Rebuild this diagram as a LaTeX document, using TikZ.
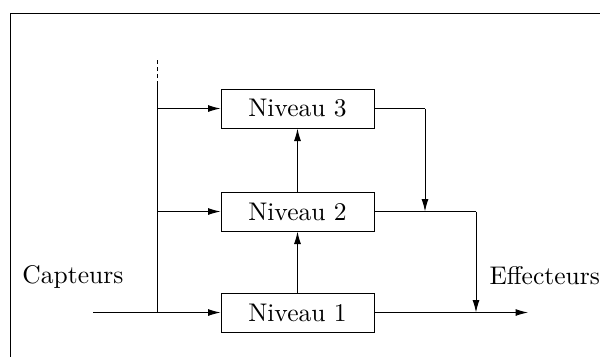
\documentclass[tikz,border=0pt]{standalone}
\usetikzlibrary{arrows.meta}
\begin{document}
\begin{tikzpicture}[x=0.4pt,y=-0.4pt,
  every node/.style={font=\fontsize{10.2}{12}\selectfont},
  wire/.style={line width=0.4pt},
  arr/.style={wire,-{Latex[length=5pt,width=2.8pt]}},
  levelbox/.style={draw,line width=0.4pt,minimum width=61.2pt,minimum height=15.6pt,inner sep=0pt}]
\useasboundingbox (0,0) rectangle (600,356);
% frame (top and left edges)
\draw[line width=0.4pt] (10,360) -- (10,13) -- (604,13);
% boxes
\node[levelbox] (n3) at (297.5,108.5) {Niveau 3};
\node[levelbox] (n2) at (297.5,211.5) {Niveau 2};
\node[levelbox] (n1) at (297.5,312.5) {Niveau 1};
% labels
\node[anchor=base west,inner sep=0pt] (cap) at (22,283) {Capteurs};
\node[anchor=base west,inner sep=0pt] (eff) at (489,284) {Effecteurs};
% coordinates
\coordinate (in) at (93,312.5);
\coordinate (b1) at (157,312.5);
\coordinate (b2) at (157,211.5);
\coordinate (b3) at (157,108.5);
\coordinate (btop) at (157,85);
\coordinate (bdash) at (157,57);
\coordinate (m1) at (425,211.5);
\coordinate (c3) at (425,108.5);
\coordinate (c2) at (476,211.5);
\coordinate (m2) at (476,312.5);
\coordinate (out) at (528,312.5);
% bus
\draw[wire] (b1) -- (btop);
\draw[wire,dash pattern=on 1.6pt off 1.2pt] (btop) -- (bdash);
\draw[arr] (in) -- (n1.west);
\draw[arr] (b2) -- (n2.west);
\draw[arr] (b3) -- (n3.west);
% vertical between levels
\draw[arr] (n1.north) -- (n2.south);
\draw[arr] (n2.north) -- (n3.south);
% outputs
\draw[wire] (n3.east) -- (c3);
\draw[arr] (c3) -- (m1);
\draw[wire] (n2.east) -- (c2);
\draw[arr] (c2) -- (m2);
\draw[arr] (n1.east) -- (out);
\end{tikzpicture}
\end{document}
